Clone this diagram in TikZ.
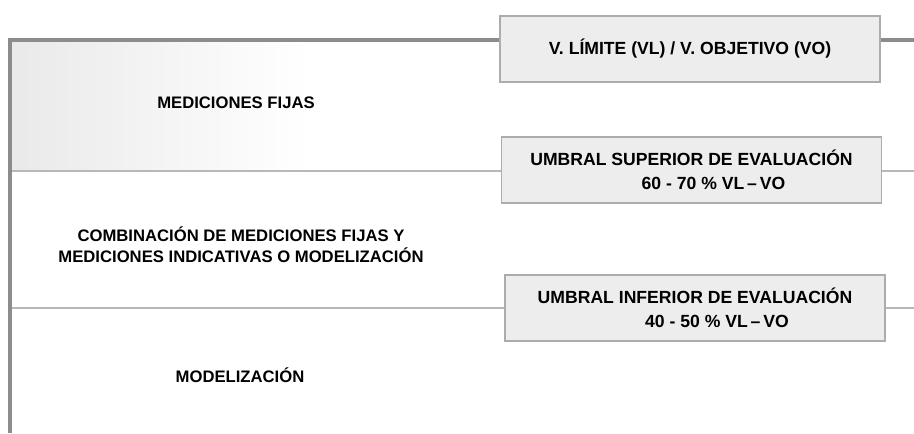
\documentclass[tikz,border=0pt]{standalone}
\usepackage{fontspec}
\setmainfont{Liberation Sans}
\usetikzlibrary{positioning,calc}

\begin{document}
\begin{tikzpicture}[
  x=0.75pt, y=-0.75pt,
  zonelabel/.style={align=center, font=\fontsize{12.5}{16}\selectfont\bfseries},
  limitbox/.style={draw=gray!65, fill=gray!14, line width=0.8pt, minimum width=285pt, minimum height=49.5pt,
    align=center, font=\fontsize{13.2}{18}\selectfont\bfseries},
  frameline/.style={draw=black!45, line width=2.4pt},
  levelline/.style={draw=black!28, line width=1pt}
]
  \useasboundingbox (0,0) rectangle (914,433);
  % corner and edge points of the frame
  \coordinate (tl) at (10,40);
  \coordinate (tr) at (914,40);
  \coordinate (bl) at (10,433);
  \coordinate (usl) at (10,171);
  \coordinate (usr) at (914,171);
  \coordinate (uil) at (10,308);
  \coordinate (uir) at (914,308);
  \shade[left color=gray!17, right color=white] (10,40) rectangle (310,171);
  \fill[white] (310,40) rectangle (914,171);
  \draw[levelline] (usl) -- (usr);
  \draw[levelline] (uil) -- (uir);
  \draw[frameline] (bl) -- (tl) -- (tr);
  % thresholds
  \node[limitbox] (vlvo) at (690,49) {V. LÍMITE (VL) / V. OBJETIVO (VO)};
  \node[limitbox] (use) at (691.5,170) {UMBRAL SUPERIOR DE EVALUACIÓN\\ \hspace*{33pt}60 - 70 \% VL\,--\,VO};
  \node[limitbox] (uie) at (695,308) {UMBRAL INFERIOR DE EVALUACIÓN\\ \hspace*{33pt}40 - 50 \% VL\,--\,VO};
  % zones
  \node[zonelabel] (fijas) at (236,103) {MEDICIONES FIJAS};
  \node[zonelabel] (comb) at (241,245) {COMBINACIÓN DE MEDICIONES FIJAS Y\\ MEDICIONES INDICATIVAS O MODELIZACIÓN};
  \node[zonelabel] (model) at (240,375) {MODELIZACIÓN};
\end{tikzpicture}
\end{document}
